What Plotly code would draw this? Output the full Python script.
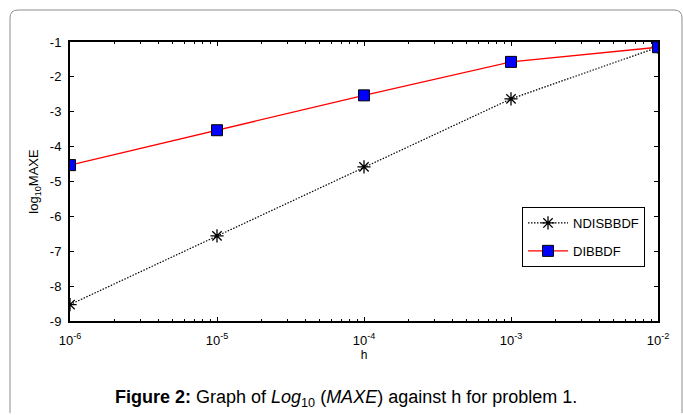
import plotly.graph_objects as go

h_values = [1e-6, 1e-5, 1e-4, 1e-3, 1e-2]
ndisbbdf = [-8.53, -6.56, -4.58, -2.63, -1.15]
dibbdf = [-4.53, -3.53, -2.53, -1.57, -1.15]

y_ticks = [-9, -8, -7, -6, -5, -4, -3, -2, -1]
y_ticktext = ["-9", "-8", "-7", "-6", "-5", "-4", "-3", "-2", "-1"]
x_ticks = [1e-6, 1e-5, 1e-4, 1e-3, 1e-2]
x_ticktext = ["10<sup>-6</sup>", "10<sup>-5</sup>", "10<sup>-4</sup>", "10<sup>-3</sup>", "10<sup>-2</sup>"]

FONT = "Liberation Sans, Arial, sans-serif"

fig = go.Figure()
fig.add_trace(go.Scatter(
    x=h_values, y=ndisbbdf, name="NDISBBDF", mode="lines+markers",
    line=dict(color="black", width=1.2, dash="1.5px,1.5px"),
    marker=dict(symbol="asterisk-open", size=11, color="black", line=dict(color="black", width=1.3)),
    legendgroup="a",
))
fig.add_trace(go.Scatter(
    x=h_values, y=dibbdf, name="DIBBDF", mode="lines+markers",
    line=dict(color="#ff0000", width=1.3),
    marker=dict(symbol="square", size=11, color="#0000ff", line=dict(color="black", width=1)),
    legendgroup="b",
))

W, H = 683, 415
L, R, T, B = 70, 25, 42, 94
pw, ph = W - L - R, H - T - B

def px(x):
    return (x - L) / pw

def py(y):
    return (H - B - y) / ph

# rounded outer frame
x0, x1, y0, y1 = 10, 682, 10, 413
r = 8
path = (
    f"M {px(x0)},{py(y1)} "
    f"L {px(x0)},{py(y0 + r)} Q {px(x0)},{py(y0)} {px(x0 + r)},{py(y0)} "
    f"L {px(x1 - r)},{py(y0)} Q {px(x1)},{py(y0)} {px(x1)},{py(y0 + r)} "
    f"L {px(x1)},{py(y1)}"
)
fig.add_shape(type="path", path=path, xref="paper", yref="paper",
              line=dict(color="#8c8c8c", width=1), layer="below")

fig.add_annotation(
    text="<b>Figure 2:</b> Graph of <i>Log</i><sub>10</sub> (<i>MAXE</i>) against h for problem 1.",
    xref="paper", yref="paper", x=px(346), y=py(398), xanchor="center", yanchor="middle",
    showarrow=False, font=dict(family=FONT, size=18, color="black"),
)

fig.update_layout(
    width=W, height=H,
    margin=dict(l=L, r=R, t=T, b=B, autoexpand=False),
    paper_bgcolor="white", plot_bgcolor="white",
    font=dict(family=FONT, size=12, color="black"),
    showlegend=True,
    legend=dict(
        x=px(522), y=py(207), xanchor="left", yanchor="top",
        bgcolor="white", bordercolor="black", borderwidth=1,
        font=dict(family=FONT, size=13, color="black"),
        tracegroupgap=8, itemwidth=40,
    ),
)

fig.update_xaxes(
    type="log", range=[-6, -2],
    tickvals=x_ticks, ticktext=x_ticktext,
    ticks="inside", ticklen=4, tickcolor="black", tickwidth=1,
    showline=True, linecolor="black", linewidth=2, mirror="allticks",
    showgrid=False, zeroline=False,
    minor=dict(ticks="inside", ticklen=2, tickcolor="black", tickwidth=1, dtick="D1", showgrid=False),
    title=dict(text="h", font=dict(family=FONT, size=12), standoff=4),
    tickfont=dict(family=FONT, size=13),
    ticklabelstandoff=6,
)
fig.update_yaxes(
    range=[-9, -1],
    tickvals=y_ticks, ticktext=y_ticktext,
    ticks="inside", ticklen=4, tickcolor="black", tickwidth=1,
    showline=True, linecolor="black", linewidth=2, mirror="allticks",
    showgrid=False, zeroline=False,
    title=dict(text="log<sub>10</sub>MAXE", font=dict(family=FONT, size=13), standoff=8),
    tickfont=dict(family=FONT, size=13),
    ticklabelstandoff=4,
)

fig.write_html("out.html", config={"displayModeBar": False},
               post_script="document.body.style.margin='0';document.body.style.overflow='hidden';")
